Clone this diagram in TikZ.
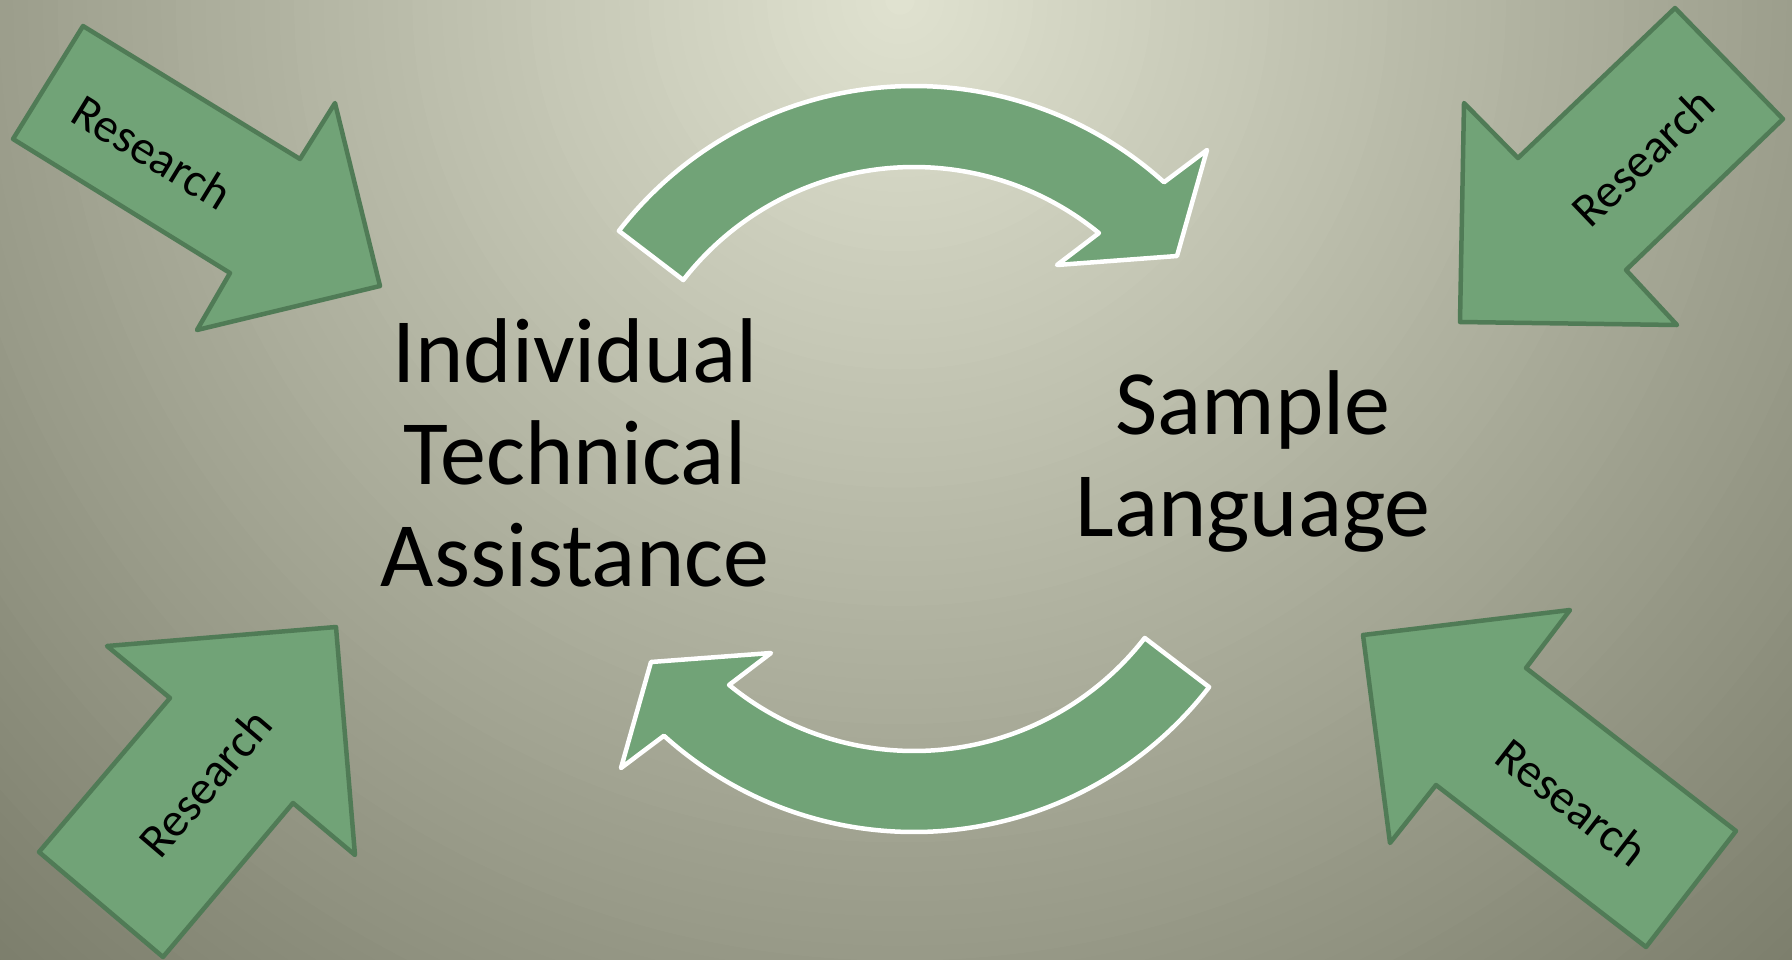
\documentclass[tikz,border=0pt]{standalone}
\usepackage{fontspec}
\setmainfont{Carlito}
\usetikzlibrary{calc}

\definecolor{bgtop}{RGB}{224,226,208}
\definecolor{bgedge}{RGB}{124,126,108}
\definecolor{leafgreen}{RGB}{113,163,119}
\definecolor{leafedge}{RGB}{80,123,86}

\tikzset{
  loopband/.style={fill=leafgreen, draw=white, line width=4.5pt, line join=round},
  pushbox/.style={fill=leafgreen, draw=leafedge, line width=4.5pt, line join=round},
  maintext/.style={font=\fontsize{92}{102}\selectfont, align=center, inner sep=0pt, text=black},
  pushlabel/.style={font=\fontsize{48}{56}\selectfont, inner sep=0pt, text=black}
}

\begin{document}
\begin{tikzpicture}[x=1pt, y=1pt, yscale=-1]
  \useasboundingbox (0,0) rectangle (1792,959);

  % background: glow from the top centre, built from nested discs
  \begin{scope}
    \clip (0,0) rectangle (1792,959);
    \foreach \i in {0,...,89} {
      \pgfmathsetmacro{\rr}{14.78*(90-\i)}
      \pgfmathtruncatemacro{\pp}{100*\i/89}
      \fill[bgtop!\pp!bgedge] (900,0) circle[radius=\rr];
    }
  \end{scope}

  % upper curved arrow (left to right)
  \filldraw[loopband]
    ([shift={(914,459)}]-142.2:292) -- ([shift={(914,459)}]-142.3:373)
    arc[start angle=-142.3, end angle=-47.9, radius=373]
    -- (1207,150) -- (1177,256) -- (1057,265)
    -- ([shift={(914,459)}]-50.7:292)
    arc[start angle=-50.7, end angle=-142.2, radius=292] -- cycle;

  % lower curved arrow (right to left), the same band turned half a circle
  \begin{scope}[rotate around={180:(914,459)}]
    \filldraw[loopband]
      ([shift={(914,459)}]-142.2:292) -- ([shift={(914,459)}]-142.3:373)
      arc[start angle=-142.3, end angle=-47.9, radius=373]
      -- (1207,150) -- (1177,256) -- (1057,265)
      -- ([shift={(914,459)}]-50.7:292)
      arc[start angle=-50.7, end angle=-142.2, radius=292] -- cycle;
  \end{scope}

  % four block arrows pushing inwards
  \filldraw[pushbox] (83,26) -- (300,159) -- (335,103) -- (380,286)
    -- (197,330) -- (230,273) -- (13,139) -- cycle;
  \filldraw[pushbox] (1675,8) -- (1783,119) -- (1626,270) -- (1677,325)
    -- (1460,322) -- (1464,103) -- (1518,158) -- cycle;
  \filldraw[pushbox] (107,646) -- (336,627) -- (355,855) -- (293,803)
    -- (163,957) -- (39,852) -- (170,698) -- cycle;
  \filldraw[pushbox] (1363,635) -- (1570,610) -- (1526,668) -- (1736,831)
    -- (1646,947) -- (1436,785) -- (1390,843) -- cycle;

  % labels on the block arrows
  \node[pushlabel, rotate=-31.5] (resTL) at (152,152) {Research};
  \node[pushlabel, rotate=43.7]  (resTR) at (1643,157) {Research};
  \node[pushlabel, rotate=49.6]  (resBL) at (205,783) {Research};
  \node[pushlabel, rotate=-37.8] (resBR) at (1572,802) {Research};

  % the two central topics
  \node[maintext] (assist) at (575,453) {Individual\\Technical\\Assistance};
  \node[maintext] (sample) at (1253,461) {Sample\\Language};
\end{tikzpicture}
\end{document}
